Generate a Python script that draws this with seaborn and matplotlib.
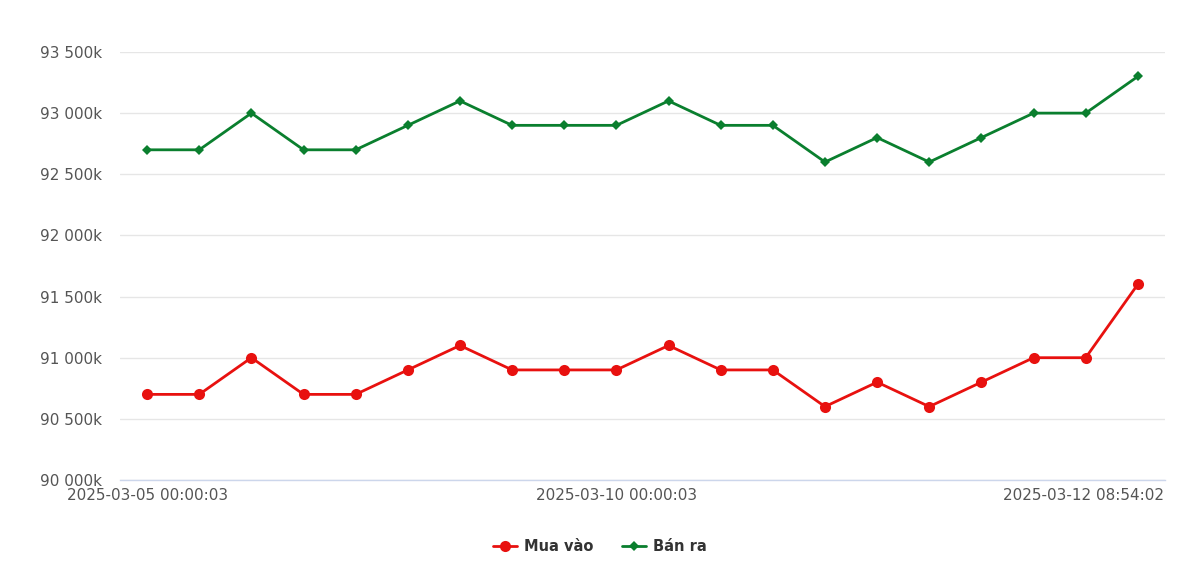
import matplotlib
matplotlib.use("Agg")
import matplotlib.pyplot as plt
import matplotlib.transforms as mtransforms
from matplotlib.ticker import FuncFormatter
from matplotlib.lines import Line2D
import seaborn as sns
import pandas as pd

x_labels = ["2025-03-05 00:00:03", "2025-03-10 00:00:03", "2025-03-12 08:54:02"]
x_label_idx = [0, 9, 19]
mua_vao = [90700, 90700, 91000, 90700, 90700, 90900, 91100, 90900, 90900, 90900,
           91100, 90900, 90900, 90600, 90800, 90600, 90800, 91000, 91000, 91600]
ban_ra = [92700, 92700, 93000, 92700, 92700, 92900, 93100, 92900, 92900, 92900,
          93100, 92900, 92900, 92600, 92800, 92600, 92800, 93000, 93000, 93300]
series_names = ["Mua vào", "Bán ra"]
colors = {"Mua vào": "#e8110f", "Bán ra": "#0a7f2e"}

n = len(mua_vao)
df = pd.DataFrame({
    "idx": list(range(n)) * 2,
    "value": mua_vao + ban_ra,
    "series": [series_names[0]] * n + [series_names[1]] * n,
})

sns.set_theme(style="white")
plt.rcParams["font.family"] = ["DejaVu Sans"]

fig = plt.figure(figsize=(12, 5.88), dpi=100)
ax = fig.add_axes([0.1, 0.1837, 0.8708, 0.7279])

sns.lineplot(data=df, x="idx", y="value", hue="series", style="series",
             markers={"Mua vào": "o", "Bán ra": "D"}, dashes=False,
             palette=colors, linewidth=2.0, markeredgewidth=0, ax=ax,
             legend=False)
for line, ms in zip(ax.get_lines(), [8, 5.5]):
    line.set_markersize(ms)

ax.set_xlim(-0.52, n - 0.48)
ax.set_ylim(90000, 93500)
ax.set_yticks(range(90000, 93501, 500))
ax.yaxis.set_major_formatter(FuncFormatter(lambda v, p: f"{int(v/1000):d} {int(v%1000):03d}k"))
ax.grid(axis="y", color="#e6e6e6", linewidth=1)
ax.grid(axis="x", visible=False)
for s in ["top", "right", "left"]:
    ax.spines[s].set_visible(False)
ax.spines["bottom"].set_color("#ccd6eb")
ax.spines["bottom"].set_linewidth(1)
ax.set_xlabel("")
ax.set_ylabel("")
ax.set_xticks(x_label_idx)
ax.set_xticklabels(x_labels)
ax.tick_params(axis="y", length=0, pad=13, labelsize=11, labelcolor="#555555")
ax.tick_params(axis="x", length=0, pad=6, labelsize=11, labelcolor="#555555")
last = ax.get_xticklabels()[-1]
last.set_horizontalalignment("right")
last.set_transform(last.get_transform() + mtransforms.ScaledTranslation(26 / 100, 0, fig.dpi_scale_trans))

handles = [
    Line2D([], [], color=colors["Mua vào"], marker="o", markersize=8, linewidth=2.0, markeredgewidth=0),
    Line2D([], [], color=colors["Bán ra"], marker="D", markersize=5.5, linewidth=2.0, markeredgewidth=0),
]
leg = fig.legend(handles, series_names, loc="center", bbox_to_anchor=(0.5, 0.071), ncol=2,
                 frameon=False, handlelength=1.6, columnspacing=2.0, handletextpad=0.5,
                 prop={"weight": "bold", "size": 10.5})
for t in leg.get_texts():
    t.set_color("#333333")

fig.savefig("out.png", dpi=100, facecolor="white")
